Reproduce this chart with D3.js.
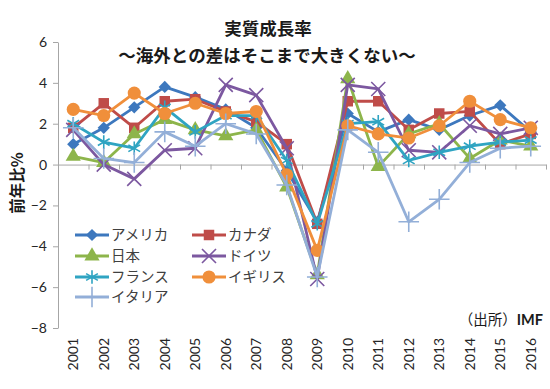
<!DOCTYPE html>
<html>
<head>
<meta charset="utf-8">
<script src="https://cdn.jsdelivr.net/npm/d3@7"></script>
<style>
  body { margin: 0; background: #fff; }
  svg { display: block; font-family: "Noto Sans CJK JP", "Noto Sans", sans-serif; }
</style>
</head>
<body>
<svg id="chart" width="550" height="389"></svg>
<script>
const years = ["2001","2002","2003","2004","2005","2006","2007","2008",
  "2009","2010","2011","2012","2013","2014","2015","2016"];
const yTicks = [-8, -6, -4, -2, 0, 2, 4, 6];

const seriesNames = ["アメリカ", "カナダ", "日本", "ドイツ", "フランス", "イギリス", "イタリア"];

const usa = [1.0, 1.8, 2.8, 3.8, 3.3, 2.7, 1.8, -0.3, -2.8, 2.5, 1.6, 2.2, 1.7, 2.4, 2.9, 1.6];
const canada = [1.8, 3.0, 1.8, 3.1, 3.2, 2.6, 2.1, 1.0, -2.9, 3.1, 3.1, 1.7, 2.5, 2.6, 1.0, 1.5];
const japan = [0.4, 0.1, 1.5, 2.2, 1.7, 1.4, 1.7, -1.1, -5.4, 4.2, -0.1, 1.5, 2.0, 0.3, 1.2, 0.9];
const germany = [1.7, 0.0, -0.7, 0.7, 0.8, 3.9, 3.4, 0.8, -5.6, 3.9, 3.7, 0.7, 0.6, 1.9, 1.5, 1.8];
const france = [2.0, 1.1, 0.8, 2.8, 1.6, 2.4, 2.4, 0.2, -2.9, 2.0, 2.1, 0.2, 0.6, 0.9, 1.1, 1.2];
const uk = [2.7, 2.4, 3.5, 2.5, 3.0, 2.5, 2.6, -0.5, -4.2, 1.9, 1.5, 1.3, 1.9, 3.1, 2.2, 1.8];
const italy = [1.8, 0.3, 0.1, 1.6, 0.9, 2.0, 1.5, -1.0, -5.5, 1.7, 0.6, -2.8, -1.7, 0.1, 0.8, 0.9];

const colors = ["#3d78be", "#bf4c49", "#8db54b", "#7c58a0", "#2fa4c2", "#f08f3b", "#93afd8"];
const markers = ["diamond", "square", "triangle", "times", "asterisk", "circle", "plus"];

const seriesData = [usa, canada, japan, germany, france, uk, italy];

const svg = d3.select("#chart");

// scales
const x = d3.scaleBand().domain(years).range([58, 546]);
const y = d3.scaleLinear().domain([-8, 6]).range([328, 42]);
const bounds = d3.scaleLinear().domain([0, years.length]).range(x.range());

// y axis
const yAxis = svg.append("g")
  .attr("transform", "translate(58,0)")
  .call(d3.axisLeft(y).tickValues(yTicks).tickSize(5).tickPadding(6).tickSizeOuter(0));
yAxis.select(".domain").attr("stroke", "#a6a6a6");
yAxis.selectAll(".tick line").attr("stroke", "#a6a6a6");
yAxis.selectAll(".tick text")
  .attr("font-family", "Lato, 'Noto Sans', sans-serif")
  .attr("font-size", 14).attr("fill", "#262626");

// x axis line at zero with boundary ticks
const xAxis = svg.append("g")
  .attr("transform", `translate(0,${y(0)})`)
  .call(d3.axisBottom(bounds).tickValues(d3.range(years.length + 1))
    .tickFormat("").tickSize(5).tickSizeOuter(0));
xAxis.select(".domain").attr("stroke", "#a6a6a6");
xAxis.selectAll(".tick line").attr("stroke", "#a6a6a6");

// year labels at the bottom
const xLabels = svg.append("g")
  .attr("transform", "translate(0,336)")
  .call(d3.axisBottom(x).tickSize(0).tickPadding(0));
xLabels.select(".domain").remove();
xLabels.selectAll(".tick text")
  .attr("font-family", "Lato, 'Noto Sans', sans-serif")
  .attr("font-size", 14).attr("fill", "#262626")
  .attr("transform", "rotate(-90)")
  .attr("text-anchor", "end")
  .attr("x", -2).attr("y", 0).attr("dy", "0.35em");

// markers
function symbolFor(kind, size) {
  const map = {
    diamond: d3.symbolSquare,
    square: d3.symbolSquare,
    triangle: d3.symbolTriangle,
    times: d3.symbolTimes || d3.symbolX,
    asterisk: d3.symbolAsterisk,
    circle: d3.symbolCircle,
    plus: d3.symbolPlus
  };
  return d3.symbol().type(map[kind]).size(size)();
}
const strokeMarker = k => k === "times" || k === "asterisk" || k === "plus";
const markerSize = { diamond: 75, square: 110, triangle: 100, times: 130, asterisk: 130, circle: 135, plus: 140 };

function drawMarker(g, kind, color, cx, cy) {
  const p = g.append("path")
    .attr("d", symbolFor(kind, markerSize[kind]))
    .attr("transform", `translate(${cx},${cy})` + (kind === "diamond" ? " rotate(45)" : ""));
  if (strokeMarker(kind)) p.attr("fill", "none").attr("stroke", color).attr("stroke-width", 1.6);
  else p.attr("fill", color);
}

const line = d3.line()
  .x((d, i) => x(years[i]) + x.bandwidth() / 2)
  .y(d => y(d));

seriesData.forEach((vals, s) => {
  const g = svg.append("g");
  g.append("path")
    .datum(vals)
    .attr("fill", "none")
    .attr("stroke", colors[s])
    .attr("stroke-width", 2.8)
    .attr("stroke-linejoin", "round")
    .attr("d", line);
  vals.forEach((v, i) => drawMarker(g, markers[s], colors[s], x(years[i]) + x.bandwidth() / 2, y(v)));
});

// legend
const legendCols = [75, 192];
const legendRows = [235, 256, 277, 297];
seriesNames.forEach((name, s) => {
  const lx = legendCols[s % 2];
  const ly = legendRows[Math.floor(s / 2)];
  const g = svg.append("g");
  g.append("line")
    .attr("x1", lx).attr("x2", lx + 34).attr("y1", ly).attr("y2", ly)
    .attr("stroke", colors[s]).attr("stroke-width", 2.8);
  drawMarker(g, markers[s], colors[s], lx + 17, ly);
  g.append("text")
    .attr("x", lx + 36).attr("y", ly).attr("dy", "0.35em")
    .attr("font-size", 14.5).attr("fill", "#404040")
    .text(name);
});

// titles
svg.append("text")
  .attr("x", 268).attr("y", 29).attr("dy", "0.35em")
  .attr("text-anchor", "middle").attr("font-size", 17.5).attr("font-weight", "bold")
  .attr("fill", "#1a1a1a").text("実質成長率");
svg.append("text")
  .attr("x", 267).attr("y", 56).attr("dy", "0.35em")
  .attr("text-anchor", "middle").attr("font-size", 17.5).attr("font-weight", "bold")
  .attr("fill", "#1a1a1a").text("～海外との差はそこまで大きくない～");

// y axis title
svg.append("text")
  .attr("transform", "translate(18,183) rotate(-90)")
  .attr("dy", "0.35em")
  .attr("text-anchor", "middle").attr("font-size", 15.5).attr("font-weight", "bold")
  .attr("fill", "#1a1a1a").text("前年比%");

// source note
const src = svg.append("text")
  .attr("x", 543).attr("y", 320).attr("dy", "0.35em")
  .attr("text-anchor", "end").attr("font-size", 14.5).attr("fill", "#1a1a1a");
src.append("tspan").text("（出所）");
src.append("tspan").attr("font-weight", "bold").attr("font-family", "Lato, sans-serif").text("IMF");
</script>
</body>
</html>
